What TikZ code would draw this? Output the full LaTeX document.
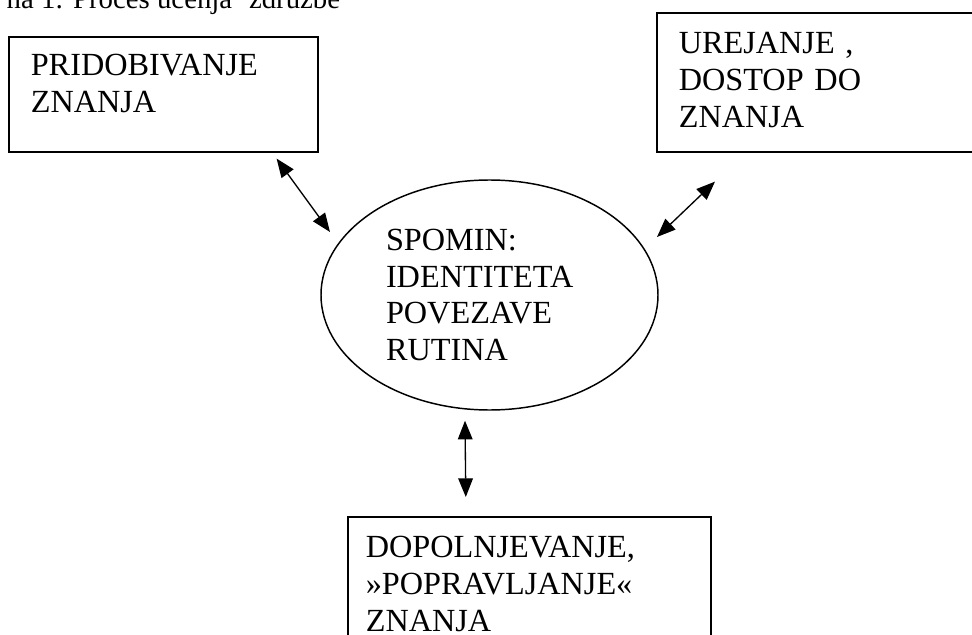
\documentclass[tikz,border=0pt]{standalone}
\usepackage{fontspec}
\setmainfont{Liberation Serif}
\usetikzlibrary{shapes.geometric, arrows.meta, calc}

\begin{document}
\begin{tikzpicture}[x=0.75pt, y=-0.75pt]
\tikzstyle{box} = [rectangle, draw=black, line width=1.2pt, anchor=north west, align=left, inner ysep=0pt, text height=30.75pt, font=\fontsize{24.2pt}{27.5pt}\selectfont]
\tikzstyle{memory} = [ellipse, draw=black, line width=1.1pt, minimum width=252.75pt, minimum height=172.5pt, inner sep=0pt, text width=155.25pt, align=left, font=\fontsize{24.2pt}{27.5pt}\selectfont]
\tikzstyle{arrow} = [line width=1pt,<->,>={Triangle[length=14pt,width=11pt]}]

\useasboundingbox (0,0) rectangle (972,635);
\clip (0,0) rectangle (972,635);

\node (cap) [anchor=base west, font=\fontsize{21.6pt}{26pt}\selectfont] at (2,9) {na 1: Proces učenja ‘združbe};
\node (acq) [box, inner xsep=16.5pt, text width=198.75pt, text height=29.25pt, text depth=57pt] at (8,36) {PRIDOBIVANJE\\ZNANJA};
\node (org) [box, inner xsep=16.5pt, text width=214.5pt, text depth=73.5pt] at (656,12) {UREJANJE ,\\DOSTOP DO\\ZNANJA};
\node (mem) [memory] at (489.5,295) {SPOMIN:\\IDENTITETA\\POVEZAVE\\RUTINA};
\node (fix) [box, inner xsep=13.5pt, text width=245.25pt, text depth=105pt] at (347,516) {DOPOLNJEVANJE,\\»POPRAVLJANJE«\\ZNANJA};

\draw [arrow] ($(acq.south east)+(-42,6)$) -- ($(mem.center)+(-159.5,-63)$);
\draw [arrow] ($(org.south west)+(59,29)$) -- ($(mem.center)+(167.5,-58)$);
\draw [arrow] ($(mem.south)+(-24.5,10)$) -- ($(fix.north)+(-63.5,-19)$);
\end{tikzpicture}
\end{document}
